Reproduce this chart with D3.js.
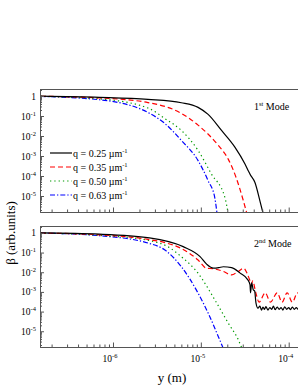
<!DOCTYPE html>
<html>
<head>
<meta charset="utf-8">
<script src="https://cdn.jsdelivr.net/npm/d3@7"></script>
<style>
  body { margin: 0; background: #fff; }
  svg { display: block; font-family: "Liberation Serif", "Times New Roman", serif; }
</style>
</head>
<body>
<script>
// ---- data: [y (m), beta] ----
const qLabels = ["0.25", "0.35", "0.50", "0.63"];

// 1st mode
const mode1_q025 = [[1.5e-7,0.98],[7e-7,0.86],[2.5e-6,0.68],[6.0e-6,0.46],[9.3e-6,0.27],[1.21e-5,0.12],[1.72e-5,0.019],[2.44e-5,2.8e-3],[3.18e-5,4e-4],[3.45e-5,1.9e-4],[3.55e-5,1.5e-4],[3.62e-5,1.25e-4],[4.13e-5,4.7e-5],[4.71e-5,5.6e-6],[5.2e-5,1.0e-6]];
const mode1_q035 = [[1.5e-7,0.97],[7e-7,0.8],[2.5e-6,0.47],[6.0e-6,0.135],[9.3e-6,0.035],[1.57e-5,3.5e-3],[2.05e-5,7e-4],[2.53e-5,8e-5],[3.03e-5,6.3e-6],[3.4e-5,1.0e-6]];
const mode1_q050 = [[1.5e-7,0.96],[7e-7,0.72],[2.5e-6,0.25],[3.9e-6,0.074],[6.0e-6,0.019],[9.3e-6,1.9e-3],[1.32e-5,1.26e-4],[1.88e-5,8.3e-6],[2.07e-5,1.0e-6]];
const mode1_q063 = [[1.5e-7,0.95],[7e-7,0.65],[2.5e-6,0.15],[3.9e-6,0.042],[6.0e-6,6e-3],[9.3e-6,5.9e-4],[1.21e-5,5.8e-5],[1.44e-5,8.3e-6],[1.54e-5,1.0e-6]];

// 2nd mode
const mode2_q025 = [[1.5e-7,0.99],[7e-7,0.86],[2.6e-6,0.56],[6.3e-6,0.2],[9.8e-6,0.062],[1.17e-5,0.025],[1.39e-5,0.016],[1.6e-5,0.017],[1.8e-5,0.019],[2.24e-5,0.017],[2.8e-5,9e-3],[3.43e-5,4.1e-3],[3.63e-5,2.3e-3],[3.68e-5,9e-4],[3.79e-5,2.9e-3],[3.95e-5,1.3e-3],[4.1e-5,1.1e-3],[4.24e-5,2.8e-4],[4.47e-5,1.5e-4],
  [4.7e-5,1.9e-4],[4.9e-5,1.2e-4],[5.1e-5,1.7e-4],[5.3e-5,1.3e-4],[5.5e-5,1.8e-4],[5.8e-5,1.2e-4],[6.1e-5,1.6e-4],[6.4e-5,1.3e-4],[6.7e-5,1.9e-4],[7.0e-5,1.25e-4],[7.4e-5,1.7e-4],[7.8e-5,1.3e-4],[8.2e-5,1.6e-4],[8.6e-5,1.2e-4],[9.0e-5,1.75e-4],[9.5e-5,1.3e-4],[1.0e-4,1.6e-4],[1.05e-4,1.25e-4],[1.1e-4,1.7e-4],[1.16e-4,1.3e-4],[1.22e-4,1.6e-4],[1.28e-4,1.3e-4],[1.34e-4,1.5e-4]];
const mode2_q035 = [[1.5e-7,0.98],[7e-7,0.8],[2.5e-6,0.47],[3.9e-6,0.32],[6.0e-6,0.16],[9.3e-6,0.042],[1.16e-5,0.016],[1.39e-5,0.015],[1.8e-5,0.011],[2.24e-5,7.3e-3],[2.6e-5,0.01],[3.07e-5,0.016],[3.35e-5,9e-3],[3.6e-5,4e-3],[3.75e-5,2.4e-3],[3.9e-5,3.6e-3],[4.2e-5,1e-3],[4.6e-5,3e-4],[5.4e-5,9e-4],[6.2e-5,3e-4],[7.4e-5,9e-4],[8.4e-5,3e-4],[9.6e-5,9e-4],[1.1e-4,3e-4],[1.26e-4,9e-4],[1.34e-4,5e-4]];
const mode2_q050 = [[1.5e-7,0.98],[7e-7,0.75],[2.5e-6,0.42],[4.24e-6,0.195],[6.0e-6,0.062],[9.3e-6,8.9e-3],[1.44e-5,4e-4],[2.05e-5,2.6e-5],[2.66e-5,3.8e-6],[2.97e-5,1.2e-6]];
const mode2_q063 = [[1.5e-7,0.98],[7e-7,0.72],[2.6e-6,0.29],[3.9e-6,0.135],[6.0e-6,0.019],[9.3e-6,8.7e-4],[1.21e-5,8.5e-5],[1.57e-5,5.8e-6],[1.82e-5,1.2e-6]];

const yMajor = [1, 1e-1, 1e-2, 1e-3, 1e-4, 1e-5];
const xMajor = [1e-6, 1e-5, 1e-4];

// ---- layout ----
var width = 298, height = 385;
var left = 40, right = 298;
var panels = [
  {top: 89, bottom: 212, series: [mode1_q025, mode1_q035, mode1_q050, mode1_q063], mode: "1", sup: "st", labels: false},
  {top: 226, bottom: 347, series: [mode2_q025, mode2_q035, mode2_q050, mode2_q063], mode: "2", sup: "nd", labels: true}
];
var colors = ["#000000", "#ff0000", "#009a00", "#0000ff"];
var dashes = [null, "5,3", "1.3,3", "5,2,1.3,2"];
var axisColor = "#555";

var svg = d3.select("body").append("svg")
    .attr("width", width)
    .attr("height", height);

var x = d3.scaleLog()
    .domain([Math.pow(10, -6.831), Math.pow(10, -3.894)])
    .range([left, right]);

// minor tick values
function minors(lo, hi) {
  var out = [];
  for (var e = lo; e < hi; e++)
    for (var k = 2; k <= 9; k++) out.push(k * Math.pow(10, e));
  return out;
}
var xMinor = minors(-7, -3).filter(v => v > x.domain()[0] && v < x.domain()[1]);

function supLabel(sel, exp, size) {
  if (exp === 0) { sel.text("1"); return; }
  sel.text("10");
  sel.append("tspan").attr("dy", -4).attr("font-size", size * 0.68).text(exp);
}

panels.forEach(function(p, pi) {
  var y = d3.scaleLog()
      .domain([Math.pow(10, -5.8), Math.pow(10, 0.35)])
      .range([p.bottom, p.top]);
  var yMinor = minors(-6, 1).filter(v => v > y.domain()[0] && v < y.domain()[1]);

  var g = svg.append("g");

  g.append("clipPath").attr("id", "clip" + pi)
    .append("rect")
    .attr("x", left).attr("y", p.top)
    .attr("width", right - left).attr("height", p.bottom - p.top);

  // curves
  var line = d3.line()
      .x(d => x(d[0]))
      .y(d => y(d[1]))
      .curve(d3.curveMonotoneX);

  g.append("g").attr("clip-path", "url(#clip" + pi + ")")
    .selectAll("path")
    .data(p.series.slice().reverse())
    .enter().append("path")
    .attr("d", line)
    .attr("fill", "none")
    .attr("stroke", (d, i) => colors[3 - i])
    .attr("stroke-width", 1.2)
    .attr("stroke-dasharray", (d, i) => dashes[3 - i]);

  // left axis
  var yAxisG = g.append("g").attr("transform", "translate(" + left + ",0)");
  yAxisG.call(d3.axisLeft(y).tickValues(yMajor).tickSize(-4).tickFormat(""));
  yAxisG.append("g").call(d3.axisLeft(y).tickValues(yMinor).tickSize(-2).tickFormat(""))
    .select(".domain").remove();
  yAxisG.selectAll(".domain, line").attr("stroke", axisColor);

  g.selectAll(".ylab")
    .data(yMajor)
    .enter().append("text")
    .attr("class", "ylab")
    .attr("x", 36)
    .attr("y", d => y(d) + 3.5)
    .attr("text-anchor", "end")
    .attr("font-size", 9.5)
    .each(function(d) { supLabel(d3.select(this), Math.round(Math.log10(d)), 9.5); });

  // bottom axis
  var xAxisG = g.append("g").attr("transform", "translate(0," + p.bottom + ")");
  xAxisG.call(d3.axisBottom(x).tickValues(xMajor).tickSize(-4.5).tickFormat(""));
  xAxisG.append("g").call(d3.axisBottom(x).tickValues(xMinor).tickSize(-2.5).tickFormat(""))
    .select(".domain").remove();
  xAxisG.selectAll(".domain, line").attr("stroke", axisColor);

  // top frame line
  g.append("line")
    .attr("x1", left).attr("x2", right)
    .attr("y1", p.top + 0.5).attr("y2", p.top + 0.5)
    .attr("stroke", axisColor);

  if (p.labels) {
    g.selectAll(".xlab")
      .data(xMajor)
      .enter().append("text")
      .attr("class", "xlab")
      .attr("x", d => x(d) - 3)
      .attr("y", p.bottom + 15)
      .attr("text-anchor", "middle")
      .attr("font-size", 9.5)
      .each(function(d) { supLabel(d3.select(this), Math.round(Math.log10(d)), 9.5); });
  }

  // mode label
  var ml = g.append("text")
    .attr("x", 254)
    .attr("y", p.top + 21)
    .attr("font-size", 10);
  ml.append("tspan").text(p.mode);
  ml.append("tspan").attr("dy", -4).attr("font-size", 6.5).text(p.sup);
  ml.append("tspan").attr("dy", 4).text(" Mode");
});

// legend
var legend = svg.append("g")
    .selectAll("g")
    .data(qLabels)
    .enter().append("g")
    .attr("transform", (d, i) => "translate(50," + (153 + i * 14) + ")");

legend.append("line")
    .attr("x1", 0).attr("x2", 22)
    .attr("stroke", (d, i) => colors[i])
    .attr("stroke-width", 1.2)
    .attr("stroke-dasharray", (d, i) => dashes[i]);

var lt = legend.append("text")
    .attr("x", 23)
    .attr("y", 3.5)
    .attr("font-size", 10);
lt.append("tspan").text(d => "q = " + d + " \u00b5m");
lt.append("tspan").attr("dy", -4).attr("font-size", 6.5).text("-1");

// axis titles
svg.append("text")
    .attr("transform", "translate(15,233) rotate(-90)")
    .attr("text-anchor", "middle")
    .attr("font-size", 13)
    .text("\u03b2  (arb.units)");

svg.append("text")
    .attr("x", 172)
    .attr("y", 382)
    .attr("text-anchor", "middle")
    .attr("font-size", 13)
    .text("y  (m)");
</script>
</body>
</html>
